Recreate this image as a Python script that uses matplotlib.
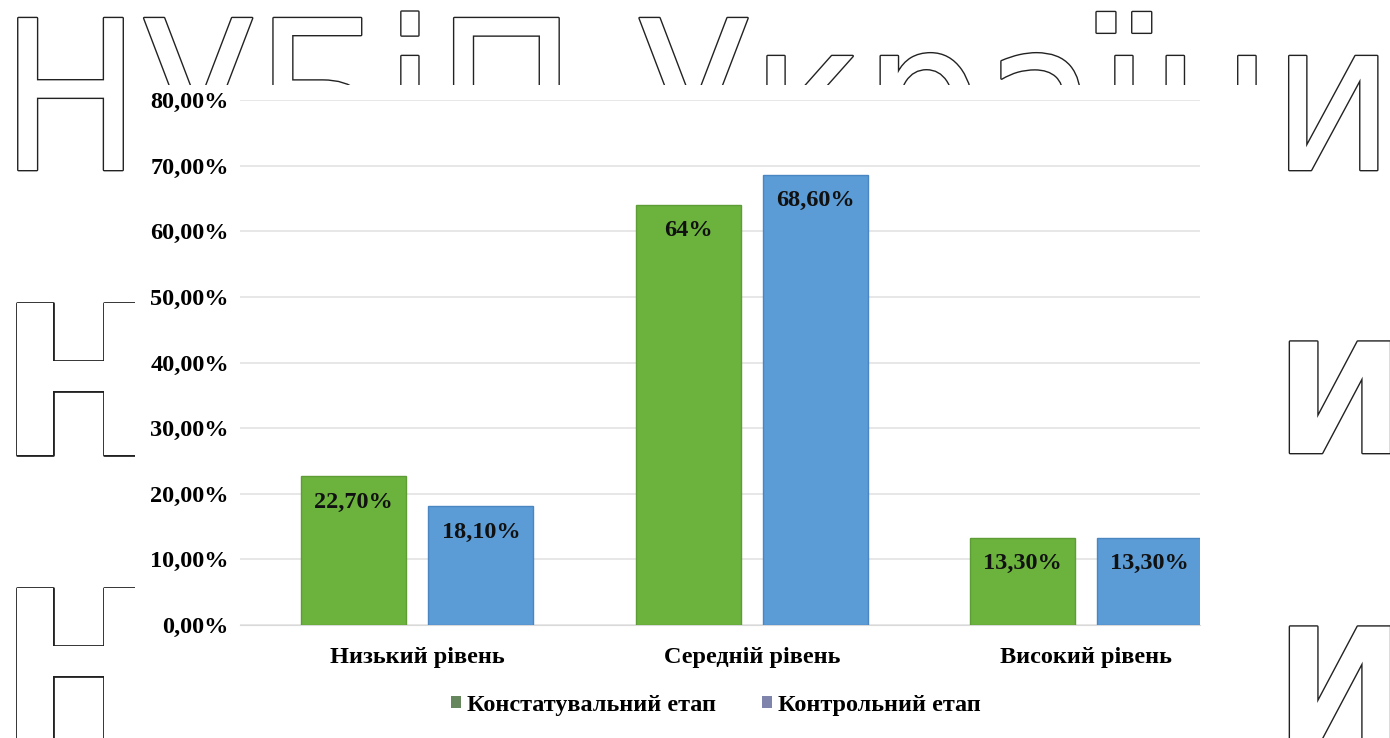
import matplotlib
matplotlib.use("Agg")
import matplotlib.pyplot as plt
import matplotlib.patheffects as pe
from matplotlib.patches import Rectangle, Patch
import numpy as np

categories = ["Низький рівень", "Середній рівень", "Високий рівень"]
series_names = ["Констатувальний етап", "Контрольний етап"]
stage1 = [22.7, 64.0, 13.3]
stage2 = [18.1, 68.6, 13.3]
labels1 = ["22,70%", "64%", "13,30%"]
labels2 = ["18,10%", "68,60%", "13,30%"]
yticks = [0, 10, 20, 30, 40, 50, 60, 70, 80]
ytick_labels = ["0,00%", "10,00%", "20,00%", "30,00%", "40,00%",
                "50,00%", "60,00%", "70,00%", "80,00%"]

plt.rcParams['font.family'] = ['Liberation Serif', 'DejaVu Serif']
plt.rcParams['font.weight'] = 'bold'

FS = 17.5
fig = plt.figure(figsize=(13.9, 7.38), dpi=100)
fig.patch.set_facecolor('white')

# background watermark (outlined letters)
outline = [pe.withStroke(linewidth=2.0, foreground='#222222')]
wm_top = dict(color='white', fontsize=150, family='DejaVu Sans', fontweight='normal',
              fontstretch='condensed', path_effects=outline, zorder=-5,
              va='baseline', ha='left')
fig.text(0.0, 1 - 170 / 738, "НУБіП України", **wm_top)
wm_col = dict(wm_top, fontweight='bold')
for yb in [455, 740]:
    fig.text(0.0, 1 - yb / 738, "Н", **wm_col)
wm_right = dict(wm_top, fontweight='bold', fontsize=110, fontstretch='normal')
for yb in [453, 738]:
    fig.text(1276 / 1390, 1 - yb / 738, "И", **wm_right)
# white chart area covering the watermark
fig.patches.append(Rectangle((135 / 1390, 0), (1280 - 135) / 1390, 1 - 85 / 738,
                             transform=fig.transFigure, facecolor='white',
                             edgecolor='none', zorder=-4))

ax = fig.add_axes([240 / 1390, 1 - 625 / 738, (1200 - 240) / 1390, (625 - 100) / 738])
ax.patch.set_alpha(0)

x = np.arange(len(categories))
w = 0.313
off = 0.19
c1, e1 = '#6cb33e', '#5e9c36'
c2, e2 = '#5b9bd6', '#4a86c2'
b1 = ax.bar(x - off, stage1, width=w, color=c1, edgecolor=e1, linewidth=1, zorder=3)
b2 = ax.bar(x + off, stage2, width=w, color=c2, edgecolor=e2, linewidth=1, zorder=3)

for bars, labs in [(b1, labels1), (b2, labels2)]:
    for rect, lab in zip(bars, labs):
        ax.annotate(lab, (rect.get_x() + rect.get_width() / 2, rect.get_height()),
                    xytext=(0, -26), textcoords='offset pixels', ha='center', va='center',
                    fontsize=FS, fontweight='bold', color='#111111', zorder=4)

ax.set_xlim(-0.53, 2.34)
ax.set_ylim(0, 80)
ax.set_yticks(yticks)
ax.set_yticklabels(ytick_labels, fontsize=FS, fontweight='bold')
ax.set_xticks(x)
ax.set_xticklabels(categories, fontsize=FS, fontweight='bold')
ax.tick_params(axis='both', length=0)
ax.tick_params(axis='y', pad=8)
ax.tick_params(axis='x', pad=16)
ax.grid(axis='y', color='#e3e3e3', linewidth=1.2, zorder=0)
for s in ['top', 'right', 'left']:
    ax.spines[s].set_visible(False)
ax.spines['bottom'].set_color('#d9d9d9')

handles = [Patch(facecolor='#66875e', edgecolor='none'),
           Patch(facecolor='#7e84ac', edgecolor='none')]
fig.legend(handles, series_names, loc='center', bbox_to_anchor=(716 / 1390, 1 - 705 / 738),
           ncol=2, frameon=False, handlelength=0.42, handleheight=0.42,
           handletextpad=0.25, columnspacing=1.9, prop={'weight': 'bold', 'size': FS})

fig.savefig("out.png", dpi=100, facecolor='white')
